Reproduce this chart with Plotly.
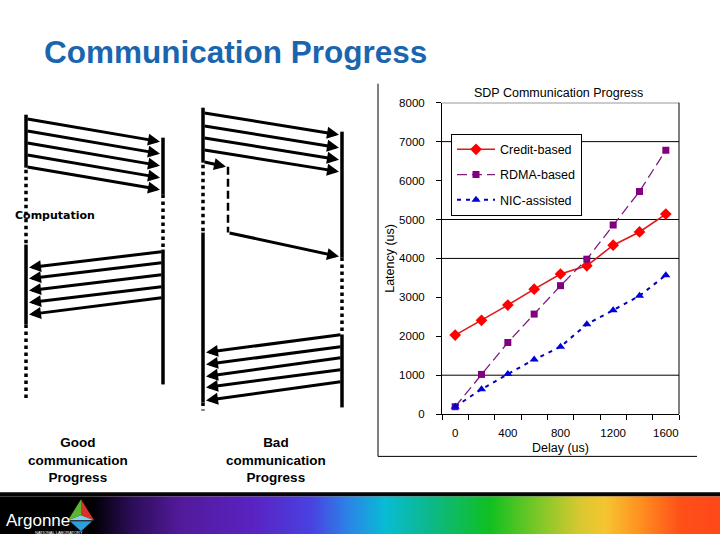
import plotly.graph_objects as go

# ---------------- chart data ----------------
delay_us = [0, 200, 400, 600, 800, 1000, 1200, 1400, 1600]
credit_based = [2030, 2410, 2800, 3210, 3600, 3810, 4340, 4680, 5140]
rdma_based = [190, 1020, 1840, 2570, 3300, 3980, 4860, 5720, 6780]
nic_assisted = [190, 640, 1030, 1400, 1730, 2310, 2670, 3040, 3570]
series_names = ["Credit-based", "RDMA-based", "NIC-assisted"]
x_tick_vals = [0, 400, 800, 1200, 1600]
x_tick_labels = ["0", "400", "800", "1200", "1600"]
y_tick_vals = [0, 1000, 2000, 3000, 4000, 5000, 6000, 7000, 8000]
y_tick_labels = ["0", "1000", "2000", "3000", "4000", "5000", "6000", "7000", "8000"]
visible_gridlines = [1000, 4000, 5000, 7000, 8000]

chart_title = "SDP Communication Progress"
x_title = "Delay (us)"
y_title = "Latency (us)"
slide_title = "Communication Progress"
good_label = "Good<br>communication<br>Progress"
bad_label = "Bad<br>communication<br>Progress"

# banner gradient stops (pixel position, colour)
banner_stop_px = [0, 92, 130, 180, 250, 310, 350, 385, 430, 490, 540, 580, 605, 640, 680, 720]
banner_stop_col = ["#000000", "#000000", "#2a0c55", "#521a9a", "#5a22c0", "#4a40e0",
                   "#2a86e6", "#08bcd4", "#0cb88a", "#10c020", "#80c828", "#d8c830",
                   "#f5c530", "#ff9020", "#ff5018", "#ff4818"]

W, H = 720, 540
FONT = "Liberation Sans, Arial, sans-serif"
# vertical calibration of the capture (observed: y_shown = A*y + B)
A, B = 0.9787, 6.2


def px(x):
    return x / W


def py(y):
    return 1 - ((y - B) / A) / H


fig = go.Figure()

# ---------------- data traces ----------------
fig.add_trace(go.Scatter(
    x=delay_us, y=credit_based, name=series_names[0], mode="lines+markers",
    line=dict(color="#e01818", width=1.6),
    marker=dict(symbol="diamond", size=9, color="#ff0000"),
    legendgroup="a"))
fig.add_trace(go.Scatter(
    x=delay_us, y=rdma_based, name=series_names[1], mode="lines+markers",
    line=dict(color="#7b1f7b", width=1.3, dash="10px,5px"),
    marker=dict(symbol="square", size=7, color="#800080"),
    legendgroup="b"))
fig.add_trace(go.Scatter(
    x=delay_us, y=nic_assisted, name=series_names[2], mode="lines+markers",
    line=dict(color="#0000c0", width=2, dash="4px,5px"),
    marker=dict(symbol="triangle-up", size=8, color="#0000d8"),
    legendgroup="c"))

# ---------------- banner (gradient) on pixel axes ----------------
edges = list(range(0, W + 1))
centers = [e + 0.5 for e in edges[:-1]]
fig.add_trace(go.Heatmap(
    x=edges, y=[497, 545], z=[centers], xaxis="x2", yaxis="y2",
    colorscale=[[p / W, c] for p, c in zip(banner_stop_px, banner_stop_col)],
    zmin=0, zmax=W, showscale=False, hoverinfo="skip"))

shapes = []
annotations = []

# gridlines & plot border
for g in visible_gridlines:
    shapes.append(dict(type="line", xref="x domain", yref="y", x0=0, x1=1, y0=g, y1=g,
                       line=dict(color="black", width=1), layer="below"))
shapes.append(dict(type="line", xref="x domain", yref="y domain", x0=1, x1=1, y0=0, y1=1,
                   line=dict(color="black", width=1)))
# chart frame
shapes.append(dict(type="line", xref="x2", yref="y2", x0=378, x1=378, y0=84, y1=457,
                   line=dict(color="black", width=1)))
shapes.append(dict(type="line", xref="x2", yref="y2", x0=378, x1=697, y0=457, y1=457,
                   line=dict(color="black", width=1)))

# banner black top line
shapes.append(dict(type="rect", xref="x2", yref="y2", x0=0, x1=W, y0=493, y1=497,
                   fillcolor="#080404", line=dict(width=0)))

# ---------------- timeline diagrams (pixel geometry) ----------------
solid_segments = [(26, 115, 168), (26, 245, 325), (163, 138, 195), (163, 250, 385),
                  (203, 108, 163), (203, 233, 403), (342, 132, 258), (342, 335, 408)]
dotted_segments = [(26, 170, 245), (26, 325, 402), (163, 195, 250),
                   (203, 165, 233), (203, 403, 411), (342, 258, 335)]
for x, y0, y1 in solid_segments:
    shapes.append(dict(type="line", xref="x2", yref="y2", x0=x, x1=x, y0=y0, y1=y1,
                       line=dict(color="black", width=3.5)))
for x, y0, y1 in dotted_segments:
    shapes.append(dict(type="line", xref="x2", yref="y2", x0=x, x1=x, y0=y0, y1=y1,
                       line=dict(color="black", width=3.5, dash="dot")))
# dashed wait line in bad diagram
shapes.append(dict(type="line", xref="x2", yref="y2", x0=228, x1=228, y0=167, y1=233,
                   line=dict(color="black", width=2.5, dash="8px,4px")))

arrows = []
for ys, ye in zip([119, 131, 143, 155, 167], [142, 154, 166, 178, 190]):
    arrows.append((26, ys, 160, ye))
for ys, ye in zip([252, 263, 275, 287, 298], [268, 279, 291, 303, 315]):
    arrows.append((163, ys, 29, ye))
for ys, ye in zip([113, 126, 138, 150], [135, 148, 160, 172]):
    arrows.append((203, ys, 339, ye))
arrows.append((203, 162, 226, 167))
arrows.append((228, 233, 339, 257))
for ys, ye in zip([335, 347, 358, 370, 382], [353, 365, 377, 388, 401]):
    arrows.append((342, ys, 206, ye))
for x0, y0, x1, y1 in arrows:
    annotations.append(dict(text="", showarrow=True, xref="x2", yref="y2", axref="x2", ayref="y2",
                            x=x1, y=y1, ax=x0, ay=y0, arrowhead=2, arrowsize=0.8,
                            arrowwidth=3, arrowcolor="black", standoff=0, startstandoff=0))

# ---------------- texts ----------------
annotations += [
    dict(text="<b>" + slide_title + "</b>", xref="paper", yref="paper", x=px(42), y=py(52),
         xanchor="left", yanchor="middle", showarrow=False,
         font=dict(family=FONT, size=31.5, color="#1a66ae")),
    dict(text="<b>Computation</b>", xref="paper", yref="paper", x=px(13), y=py(216),
         xanchor="left", yanchor="middle", showarrow=False,
         font=dict(family="DejaVu Sans", size=11, color="black")),
    dict(text="<b>" + good_label + "</b>", xref="paper", yref="paper", x=px(78), y=py(461),
         xanchor="center", yanchor="middle", showarrow=False,
         font=dict(family=FONT, size=13.5, color="black")),
    dict(text="<b>" + bad_label + "</b>", xref="paper", yref="paper", x=px(276), y=py(461),
         xanchor="center", yanchor="middle", showarrow=False,
         font=dict(family=FONT, size=13.5, color="black")),
    dict(text=chart_title, xref="paper", yref="paper", x=px(558), y=py(93),
         xanchor="center", yanchor="middle", showarrow=False,
         font=dict(family=FONT, size=12.5, color="black")),
    dict(text="Argonne", xref="paper", yref="paper", x=px(4), y=py(521),
         xanchor="left", yanchor="middle", showarrow=False,
         font=dict(family=FONT, size=17, color="white")),
    dict(text="NATIONAL LABORATORY", xref="paper", yref="paper", x=px(33), y=py(533),
         xanchor="left", yanchor="middle", showarrow=False,
         font=dict(family=FONT, size=4, color="white")),
]

# Argonne triangle logo
shapes += [
    dict(type="path", xref="x2", yref="y2", path="M 81 500 L 68 521 L 81 516 Z",
         fillcolor="#5cb531", line=dict(width=0)),
    dict(type="path", xref="x2", yref="y2", path="M 81 500 L 94 521 L 81 516 Z",
         fillcolor="#d9312b", line=dict(width=0)),
    dict(type="path", xref="x2", yref="y2", path="M 68 521 L 94 521 L 81 516 Z",
         fillcolor="#8bd0ea", line=dict(width=0)),
    dict(type="path", xref="x2", yref="y2", path="M 70 522 L 92 522 L 81 532 Z",
         fillcolor="#2c9fdc", line=dict(width=0)),
]

fig.update_layout(
    width=W, height=H, margin=dict(l=0, r=0, t=0, b=0),
    paper_bgcolor="white", plot_bgcolor="rgba(0,0,0,0)",
    font=dict(family=FONT, size=11.5, color="black"),
    showlegend=True,
    legend=dict(x=px(451), y=py(134), xanchor="left", yanchor="top",
                bgcolor="white", bordercolor="black", borderwidth=1,
                font=dict(family=FONT, size=12.5, color="black"),
                traceorder="grouped", tracegroupgap=6, itemwidth=38),
    xaxis=dict(domain=[px(442), px(679)], range=[-100, 1700],
               tickvals=x_tick_vals, ticktext=x_tick_labels, ticks="",
               ticklabelstandoff=8,
               showline=True, linecolor="black", linewidth=1,
               showgrid=False, zeroline=False,
               minor=dict(tick0=-100, dtick=200, ticks="outside", ticklen=5,
                          tickcolor="black", showgrid=False),
               tickfont=dict(family=FONT, size=11.5),
               title=dict(text=x_title, font=dict(family=FONT, size=12.5), standoff=5),
               anchor="y", fixedrange=True),
    yaxis=dict(domain=[py(414.7), py(103)], range=[0, 8000],
               tickvals=y_tick_vals, ticktext=y_tick_labels, ticks="outside",
               ticklen=5, tickcolor="black", ticklabelstandoff=9,
               showline=True, linecolor="black", linewidth=1,
               showgrid=False, zeroline=False,
               tickfont=dict(family=FONT, size=11.5),
               title=dict(text=y_title, font=dict(family=FONT, size=12.5), standoff=1),
               anchor="x", fixedrange=True),
    xaxis2=dict(domain=[0, 1], range=[0, W], visible=False, anchor="y2", fixedrange=True),
    yaxis2=dict(domain=[0, 1], range=[A * H + B, B], visible=False, anchor="x2", fixedrange=True),
    shapes=shapes, annotations=annotations,
)

post = ("document.documentElement.style.overflow='hidden';"
        "document.body.style.margin='0';document.body.style.overflow='hidden';"
        "var d=document.getElementById('{plot_id}');"
        "d.style.position='fixed';d.style.left='0px';d.style.top='0px';")
fig.write_html("out.html", config={"displayModeBar": False}, post_script=post)
